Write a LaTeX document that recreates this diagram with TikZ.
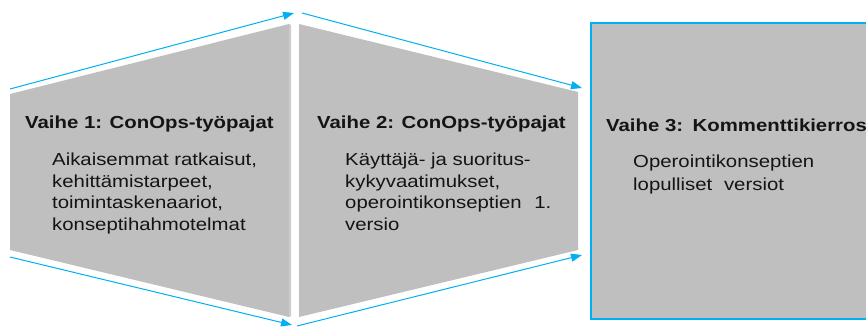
\documentclass[tikz,border=0pt]{standalone}
\usepackage{fontspec}
\setmainfont[FakeStretch=1.17]{Liberation Sans}
\usetikzlibrary{arrows.meta}
\definecolor{flowblue}{RGB}{0,176,240}
\definecolor{panelgray}{RGB}{191,191,191}
\definecolor{inkgray}{RGB}{20,20,20}
\begin{document}
\begin{tikzpicture}[x=1pt,y=-1pt,
  panel/.style={fill=panelgray},
  flow/.style={draw=flowblue, line width=1pt, -{Triangle[length=11pt,width=8pt]}},
  phasetitle/.style={anchor=base west, inner sep=0pt, text=inkgray,
    font=\fontsize{17.4}{20}\selectfont\bfseries},
  phasebody/.style={anchor=base west, inner sep=0pt, text=inkgray,
    font=\fontsize{17.4}{20}\selectfont}]
\useasboundingbox (0,0) rectangle (866,328);
\clip (0,0) rectangle (866,328);

% phase panels
\fill[panel] (10,94) -- (289,24) -- (289,317) -- (10,250) -- cycle;
\fill[panelgray!80!white] (289,24) -- (291,25) -- (291,316) -- (289,317) -- cycle;
\fill[panel] (299,24) -- (578,92) -- (578,250) -- (299,317) -- cycle;
\filldraw[fill=panelgray, draw=flowblue, line width=2.8pt] (591,23) rectangle (890,319);

% flow arrows along the panel edges
\coordinate (a1s) at (10,89);   \coordinate (a1e) at (294,13);
\coordinate (b1s) at (10,257);  \coordinate (b1e) at (292,325);
\coordinate (a2s) at (302,13);  \coordinate (a2e) at (582,88);
\coordinate (b2s) at (297,326); \coordinate (b2e) at (582,255);
\draw[flow] (a1s) -- (a1e);
\draw[flow] (b1s) -- (b1e);
\draw[flow] (a2s) -- (a2e);
\draw[flow] (b2s) -- (b2e);

% phase 1
\node[phasetitle] (t1) at (25,129) {Vaihe 1: ConOps-työpajat};
\node[phasebody] (p1a) at (52,166) {Aikaisemmat ratkaisut,};
\node[phasebody] (p1b) at (52,188) {kehittämistarpeet,};
\node[phasebody] (p1c) at (52,209) {toimintaskenaariot,};
\node[phasebody] (p1d) at (52,231) {konseptihahmotelmat};

% phase 2
\node[phasetitle] (t2) at (317,129) {Vaihe 2: ConOps-työpajat};
\node[phasebody] (p2a) at (345,166) {Käyttäjä- ja suoritus-};
\node[phasebody] (p2b) at (345,188) {kykyvaatimukset,};
\node[phasebody] (p2c) at (345,209) {operointikonseptien\hspace{7pt} 1.};
\node[phasebody] (p2d) at (345,231) {versio};

% phase 3
\node[phasetitle] (t3) at (606,132) {Vaihe 3:\hspace{2pt} Kommenttikierros};
\node[phasebody] (p3a) at (633,168) {Operointikonseptien};
\node[phasebody] (p3b) at (633,191) {lopulliset\hspace{6pt} versiot};
\end{tikzpicture}
\end{document}
